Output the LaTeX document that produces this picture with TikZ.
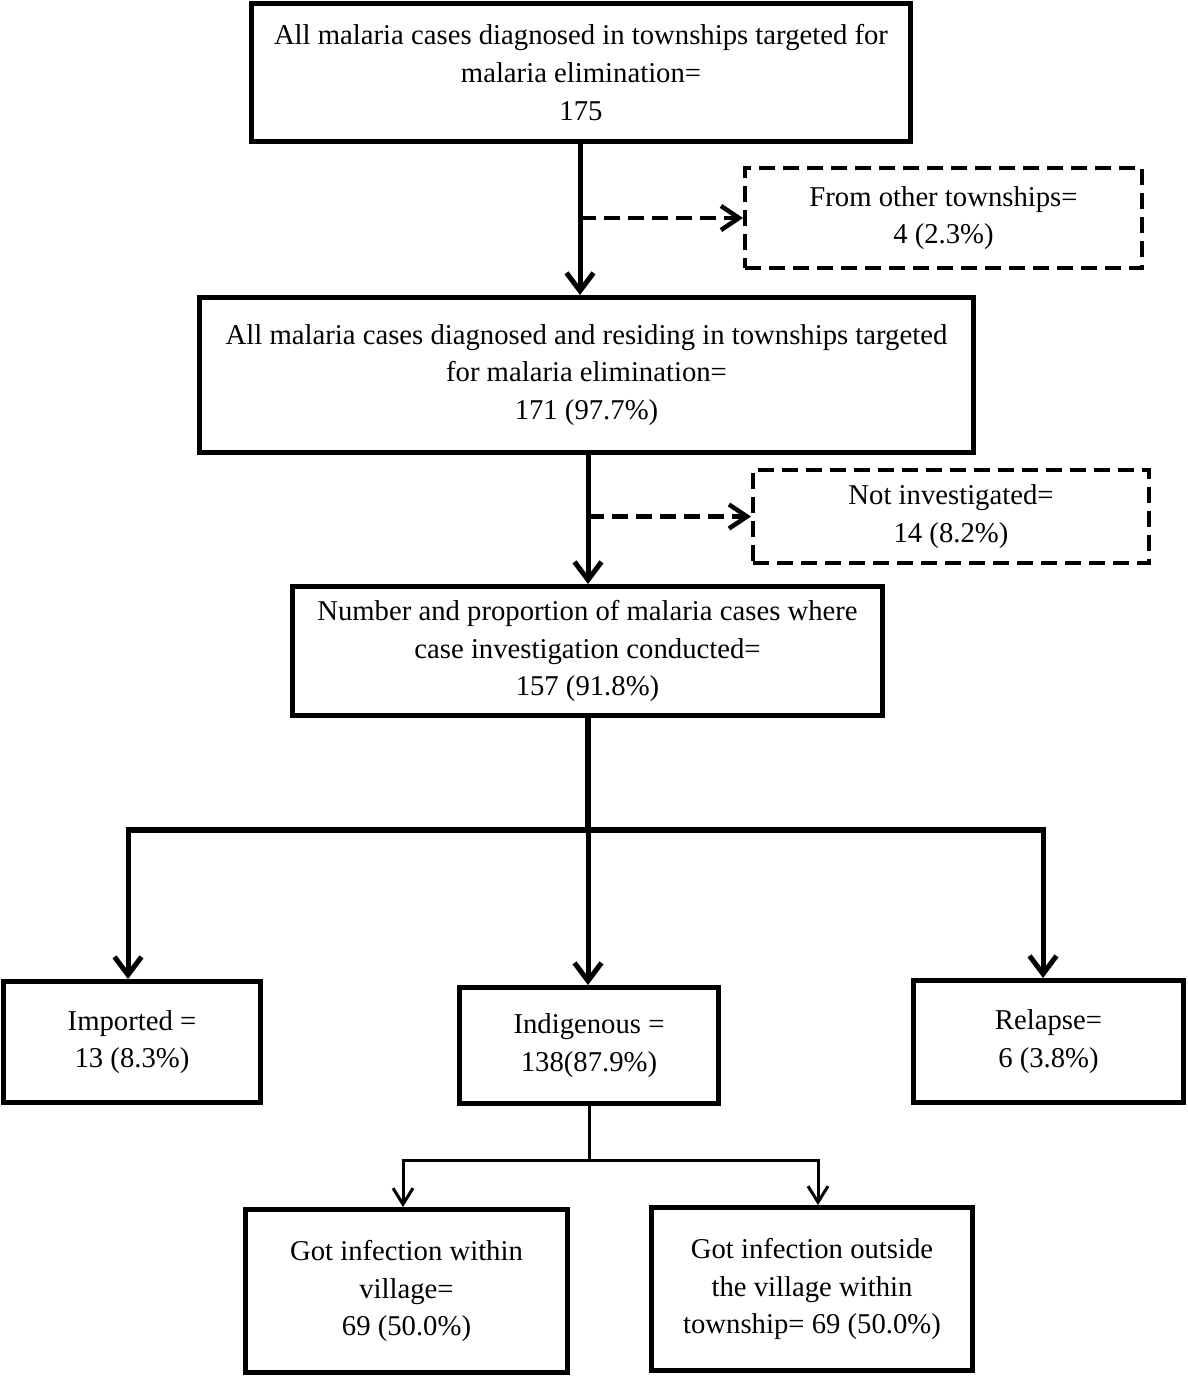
\documentclass[tikz,border=0pt]{standalone}
\usepackage{fontspec}
\setmainfont{Liberation Serif}
\usetikzlibrary{arrows.meta}
\begin{document}
\begin{tikzpicture}[x=1pt,y=-1pt,
  box/.style={draw, line width=5pt, align=center, inner sep=0pt,
    font=\fontsize{28.7pt}{37.8pt}\selectfont},
  dbox/.style={box, line width=4pt, dash pattern=on 16pt off 8pt},
  mainarrow/.style={line width=5pt, -{Straight Barb[length=18pt,width=27pt]}},
  dasharrow/.style={line width=4.5pt, dash pattern=on 16pt off 8pt, -{Straight Barb[length=18pt,width=24pt]}},
  thinarrow/.style={line width=3pt, -{Straight Barb[length=16pt,width=20pt]}},
  bar/.style={line width=6pt}
]
\useasboundingbox (0,0) rectangle (1187,1376);

\node[box, minimum width=659pt, minimum height=138pt] (b1) at (581,72.5)
  {All malaria cases diagnosed in townships targeted for\\ malaria elimination=\\ 175};
\node[dbox, minimum width=397pt, minimum height=100pt] (d1) at (943.5,218)
  {From other townships=\\ 4 (2.3\%)};
\node[box, minimum width=774pt, minimum height=155pt] (b2) at (586.5,375)
  {All malaria cases diagnosed and residing in townships targeted\\ for malaria elimination=\\ 171 (97.7\%)};
\node[dbox, minimum width=396pt, minimum height=93pt] (d2) at (951,516.5)
  {Not investigated=\\ 14 (8.2\%)};
\node[box, minimum width=590pt, minimum height=129pt] (b3) at (587.5,651)
  {Number and proportion of malaria cases where\\ case investigation conducted=\\ 157 (91.8\%)};
\node[box, minimum width=257pt, minimum height=121pt] (imp) at (132,1042)
  {Imported =\\ 13 (8.3\%)};
\node[box, minimum width=259pt, minimum height=116pt] (ind) at (589,1045.5)
  {Indigenous =\\ 138(87.9\%)};
\node[box, minimum width=270pt, minimum height=122pt] (rel) at (1048.5,1041.5)
  {Relapse=\\ 6 (3.8\%)};
\node[box, minimum width=322pt, minimum height=163pt] (v1) at (406.5,1291)
  {Got infection within\\ village=\\ 69 (50.0\%)};
\node[box, minimum width=321pt, minimum height=163pt] (v2) at (812,1289)
  {Got infection outside\\ the village within\\ township= 69 (50.0\%)};

% top flow
\draw[mainarrow] (b1.south -| 580,0) -- (580,0 |- b2.north);
\draw[dasharrow] (580,0 |- d1.west) -- (d1.west);
\draw[mainarrow] (b2.south -| 588,0) -- (588,0 |- b3.north);
\draw[dasharrow] (588,0 |- d2.west) -- (d2.west);

% branching to three
\coordinate (j) at (588,830);
\coordinate (jl) at (128,830);
\coordinate (jr) at (1043,830);
\draw[bar] (b3.south -| j) -- (j);
\draw[bar] ([xshift=-2.5pt]jl) -- ([xshift=2.5pt]jr);
\draw[mainarrow] ([yshift=-3pt]jl) -- (jl |- imp.north);
\draw[mainarrow] ([yshift=-3pt]j) -- (j |- ind.north);
\draw[mainarrow] ([yshift=-3pt]jr) -- (jr |- rel.north);

% indigenous split
\coordinate (k) at (589,1160);
\coordinate (kl) at (403,1160);
\coordinate (kr) at (818,1160);
\draw[line width=3pt] (ind.south) -- (k);
\draw[line width=3pt] ([xshift=-1.5pt]kl) -- ([xshift=1.5pt]kr);
\draw[thinarrow] ([yshift=-1.5pt]kl) -- (kl |- v1.north);
\draw[thinarrow] ([yshift=-1.5pt]kr) -- (kr |- v2.north);
\end{tikzpicture}
\end{document}
